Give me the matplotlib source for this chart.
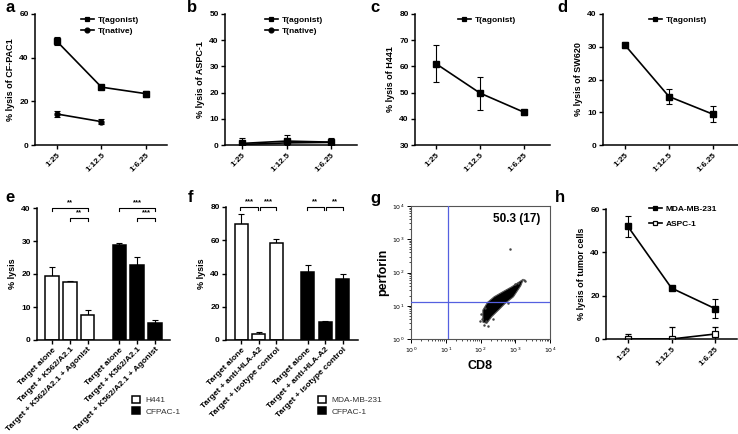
import numpy as np
import matplotlib
matplotlib.use("Agg")
import matplotlib.pyplot as plt
from matplotlib.patches import Polygon
from matplotlib.lines import Line2D

plt.rcParams['font.family'] = ['Liberation Sans', 'DejaVu Sans']

W, H = 738, 434

# ---------------- data ----------------
ratios = ['1:25', '1:12.5', '1:6.25']

a_agonist = [47.5, 26.5, 23.5]
a_agonist_err = [1.8, 0.7, 1.3]
a_native = [14.2, 10.7]
a_native_err = [1.5, 1.2]

b_agonist = [0.6, 1.5, 1.1]
b_agonist_err = [2.2, 2.3, 1.4]
b_native = [0.2, 0.8, 1.0]
b_native_err = [0.4, 0.5, 0.4]

c_agonist = [61.0, 49.8, 42.5]
c_agonist_err = [7.0, 6.3, 1.0]

d_agonist = [30.5, 14.8, 9.4]
d_agonist_err = [0.8, 2.2, 2.5]

e_labels = ['Target alone', 'Target + K562/A2.1', 'Target + K562/A2.1 + Agonist']
e_h441 = [19.5, 17.5, 7.7]
e_h441_err = [2.5, 0.5, 1.5]
e_cfpac = [28.8, 22.8, 5.3]
e_cfpac_err = [0.5, 2.5, 0.7]

f_labels = ['Target alone', 'Target + anti-HLA-A2', 'Target + isotype control']
f_mda = [69.5, 3.5, 58.5]
f_mda_err = [6.0, 1.2, 2.0]
f_cfpac = [41.0, 11.0, 36.5]
f_cfpac_err = [4.0, 0.7, 3.0]

# flow cytometry: outline of dense cloud (CD8, perforin) and sparse events
g_cloud_cd8 = [117, 159, 247, 438, 793, 1318, 1715, 1439, 886, 511, 329, 211, 152, 117]
g_cloud_perf = [7.4, 12.6, 18.6, 26.3, 37.2, 52.5, 63.0, 39.8, 18.6, 11.7, 7.4, 4.7, 2.95, 3.2]
g_sparse_cd8 = [710, 110, 125, 1750, 1900, 140, 160, 1200, 100, 135, 230, 600, 1000, 95]
g_sparse_perf = [525, 4.0, 2.6, 60, 55, 3.6, 2.4, 50, 5.5, 8.5, 4.0, 12, 45, 3.4]
g_gate_cd8 = 11.5
g_gate_perf = 13.0
g_text = '50.3 (17)'

h_mda = [52.0, 23.5, 14.0]
h_mda_err = [4.8, 1.0, 4.5]
h_aspc = [0.0, 0.0, 2.3]
h_aspc_err = [2.5, 5.5, 3.2]

# ---------------- helpers ----------------
fig = plt.figure(figsize=(W / 100, H / 100), dpi=100)


def add_ax(l, t, r, b):
    return fig.add_axes([l / W, 1 - b / H, (r - l) / W, (b - t) / H])


TICK_FS = 6
LAB_FS = 6.5


def style(ax):
    for s in ['top', 'right']:
        ax.spines[s].set_visible(False)
    for s in ['left', 'bottom']:
        ax.spines[s].set_linewidth(1.1)
    ax.tick_params(direction='out', length=3, width=1.0, labelsize=TICK_FS, pad=1.5)
    for lab in ax.get_yticklabels():
        lab.set_fontweight('bold')


def fig_text(x, y, s, **kw):
    fig.text(x / W, 1 - y / H, s, **kw)


def panel_letter(x, y, s):
    fig_text(x, y, s, fontsize=12, fontweight='bold', ha='center', va='center')


def line_panel(ax, xlim, ylim, yticks, ylabel):
    ax.set_xlim(*xlim)
    ax.set_ylim(*ylim)
    ax.set_yticks(yticks)
    ax.set_xticks(range(len(ratios)))
    ax.set_xticklabels(ratios, rotation=45, ha='right', rotation_mode='anchor',
                       fontweight='bold', fontsize=TICK_FS)
    ax.set_ylabel(ylabel, fontsize=LAB_FS, fontweight='bold', labelpad=3)
    style(ax)


EB = dict(color='black', lw=1.2, elinewidth=0.8, capsize=2.5, capthick=0.8)


def h_line(marker, mfc='black'):
    return Line2D([], [], color='black', lw=1.2, marker=marker, ms=3.5, mfc=mfc,
                  mec='black', mew=0.9)


def legend_at(ax, handles, labels, x, y, spacing=0.35):
    ax.legend(handles, labels, loc='upper left', bbox_to_anchor=(x / W, 1 - y / H),
              bbox_transform=fig.transFigure, frameon=False,
              borderpad=0, borderaxespad=0, handlelength=1.5, handletextpad=0.5,
              labelspacing=spacing, prop={'weight': 'bold', 'size': 6})


x3 = np.arange(len(ratios))

# ---- a ----
ax = add_ax(35, 14, 167, 145)
ax.errorbar(x3, a_agonist, yerr=a_agonist_err, marker='s', ms=4, **EB)
ax.errorbar(x3[:len(a_native)], a_native, yerr=a_native_err, marker='o', ms=3.5, **EB)
line_panel(ax, (-0.49, 2.47), (0, 60), [0, 20, 40, 60], '% lysis of CF-PAC1')
legend_at(ax, [h_line('s'), h_line('o')], ['T(agonist)', 'T(native)'], 81, 16)
panel_letter(10, 7, 'a')

# ---- b ----
ax = add_ax(225, 14, 357, 145)
ax.errorbar(x3, b_agonist, yerr=b_agonist_err, marker='s', ms=4, **EB)
ax.errorbar(x3, b_native, yerr=b_native_err, marker='o', ms=3.5, **EB)
line_panel(ax, (-0.38, 2.58), (0, 50), [0, 10, 20, 30, 40, 50], '% lysis of ASPC-1')
legend_at(ax, [h_line('s'), h_line('o')], ['T(agonist)', 'T(native)'], 265, 16)
panel_letter(192, 7, 'b')

# ---- c ----
ax = add_ax(415, 14, 550, 145)
ax.errorbar(x3, c_agonist, yerr=c_agonist_err, marker='s', ms=4, **EB)
line_panel(ax, (-0.48, 2.59), (30, 80), [30, 40, 50, 60, 70, 80], '% lysis of H441')
legend_at(ax, [h_line('s')], ['T(agonist)'], 458, 16)
panel_letter(375, 7, 'c')

# ---- d ----
ax = add_ax(603, 14, 738, 145)
ax.errorbar(x3, d_agonist, yerr=d_agonist_err, marker='s', ms=4, **EB)
line_panel(ax, (-0.5, 2.57), (0, 40), [0, 10, 20, 30, 40], '% lysis of SW620')
legend_at(ax, [h_line('s')], ['T(agonist)'], 649, 16)
panel_letter(562, 7, 'd')

# ---- bar panels ----
bar_pos = [0, 1, 2, 3.75, 4.75, 5.75]
BAR_W = 0.74
BEB = dict(fmt='none', ecolor='black', elinewidth=0.8, capsize=2.5, capthick=0.8)


def bar_panel(ax, vals1, err1, vals2, err2, labels, xlim, ylim, yticks):
    p1 = bar_pos[:3]
    p2 = bar_pos[3:]
    b1 = ax.bar(p1, vals1, width=BAR_W, color='white', edgecolor='black', linewidth=1.1, zorder=2)
    b2 = ax.bar(p2, vals2, width=BAR_W, color='black', edgecolor='black', linewidth=1.1, zorder=2)
    ax.errorbar(p1, vals1, yerr=[[0] * 3, err1], zorder=1, **BEB)
    ax.errorbar(p2, vals2, yerr=[[0] * 3, err2], zorder=1, **BEB)
    ax.set_xlim(*xlim)
    ax.set_ylim(*ylim)
    ax.set_yticks(yticks)
    ax.set_xticks(bar_pos)
    ax.set_xticklabels(labels + labels, rotation=45, ha='right', rotation_mode='anchor',
                       fontweight='bold', fontsize=TICK_FS)
    ax.set_ylabel('% lysis', fontsize=LAB_FS, fontweight='bold', labelpad=3)
    style(ax)
    return b1, b2


def bracket(ax, x0, x1, y, drop, txt):
    ax.plot([x0, x0, x1, x1], [y - drop, y, y, y - drop], color='black', lw=0.8,
            clip_on=False)
    ax.text((x0 + x1) / 2, y + drop * 0.6, txt, ha='center', va='bottom', fontsize=5.5,
            fontweight='bold')


def bar_legend(ax, handles, labels, x, y):
    ax.legend(handles, labels, loc='upper left', bbox_to_anchor=(x / W, 1 - y / H),
              bbox_transform=fig.transFigure, frameon=False, fontsize=6,
              borderpad=0, borderaxespad=0, handlelength=1.0, handleheight=0.9,
              handletextpad=0.6, labelspacing=0.35, labelcolor='#333333')


# ---- e ----
ax = add_ax(37, 208, 170, 340)
b1, b2 = bar_panel(ax, e_h441, e_h441_err, e_cfpac, e_cfpac_err, e_labels,
                   (-0.84, 6.59), (0, 40), [0, 10, 20, 30, 40])
bracket(ax, bar_pos[0], bar_pos[2], 40, 0.9, '**')
bracket(ax, bar_pos[1], bar_pos[2], 37, 0.9, '**')
bracket(ax, bar_pos[3], bar_pos[5], 40, 0.9, '***')
bracket(ax, bar_pos[4], bar_pos[5], 37, 0.9, '***')
bar_legend(ax, [b1, b2], ['H441', 'CFPAC-1'], 132, 396)
panel_letter(10, 197, 'e')

# ---- f ----
ax = add_ax(226, 207, 358, 340)
b1, b2 = bar_panel(ax, f_mda, f_mda_err, f_cfpac, f_cfpac_err, f_labels,
                   (-0.85, 6.6), (0, 80), [0, 20, 40, 60, 80])
bracket(ax, bar_pos[0] - 0.05, bar_pos[1] - 0.05, 80, 1.8, '***')
bracket(ax, bar_pos[1] + 0.05, bar_pos[2], 80, 1.8, '***')
bracket(ax, bar_pos[3] - 0.05, bar_pos[4] - 0.05, 80, 1.8, '**')
bracket(ax, bar_pos[4] + 0.05, bar_pos[5], 80, 1.8, '**')
bar_legend(ax, [b1, b2], ['MDA-MB-231', 'CFPAC-1'], 318, 396)
panel_letter(190, 197, 'f')

# ---- g ----
ax = add_ax(411, 206, 550, 339)
ax.set_xscale('log')
ax.set_yscale('log')
ax.set_xlim(1, 1e4)
ax.set_ylim(1, 1e4)
ax.add_patch(Polygon(np.column_stack([g_cloud_cd8, g_cloud_perf]), closed=True,
                     facecolor='black', edgecolor='#555555', lw=0.8, zorder=2))
ax.scatter(g_sparse_cd8, g_sparse_perf, s=0.6, color='#444444', zorder=2)
ax.axvline(g_gate_cd8, color='#5560e0', lw=0.9, zorder=3)
ax.axhline(g_gate_perf, color='#5560e0', lw=0.9, zorder=3)
ax.text(0.93, 0.9, g_text, transform=ax.transAxes, ha='right', va='center',
        fontsize=8.5, fontweight='bold')
ax.set_xticks([1, 10, 100, 1000, 10000])
ax.set_yticks([1, 10, 100, 1000, 10000])
ax.set_xticklabels([r'$10^{%d}$' % i for i in range(5)])
ax.set_yticklabels([r'$10^{%d}$' % i for i in range(5)])
ax.tick_params(which='major', length=3, width=0.7, labelsize=4.5, pad=1.5)
ax.tick_params(which='minor', length=1.5, width=0.5)
for s in ax.spines.values():
    s.set_linewidth(0.8)
    s.set_color('#555555')
ax.set_xlabel('CD8', fontsize=9, fontweight='bold', labelpad=4)
ax.set_ylabel('perforin', fontsize=9, fontweight='bold', labelpad=2)
panel_letter(375, 198, 'g')

# ---- h ----
ax = add_ax(606, 209, 737, 339)
ax.errorbar(x3, h_mda, yerr=h_mda_err, marker='s', ms=4, **EB)
ax.errorbar(x3, h_aspc, yerr=h_aspc_err, marker='s', ms=4, mfc='white',
            mec='black', mew=0.9, **EB)
line_panel(ax, (-0.5, 2.5), (0, 60), [0, 20, 40, 60], '% lysis of tumor cells')
legend_at(ax, [h_line('s'), h_line('s', mfc='white')], ['MDA-MB-231', 'ASPC-1'],
          649, 205, spacing=0.9)
panel_letter(560, 197, 'h')

fig.savefig('out.png', dpi=100)
